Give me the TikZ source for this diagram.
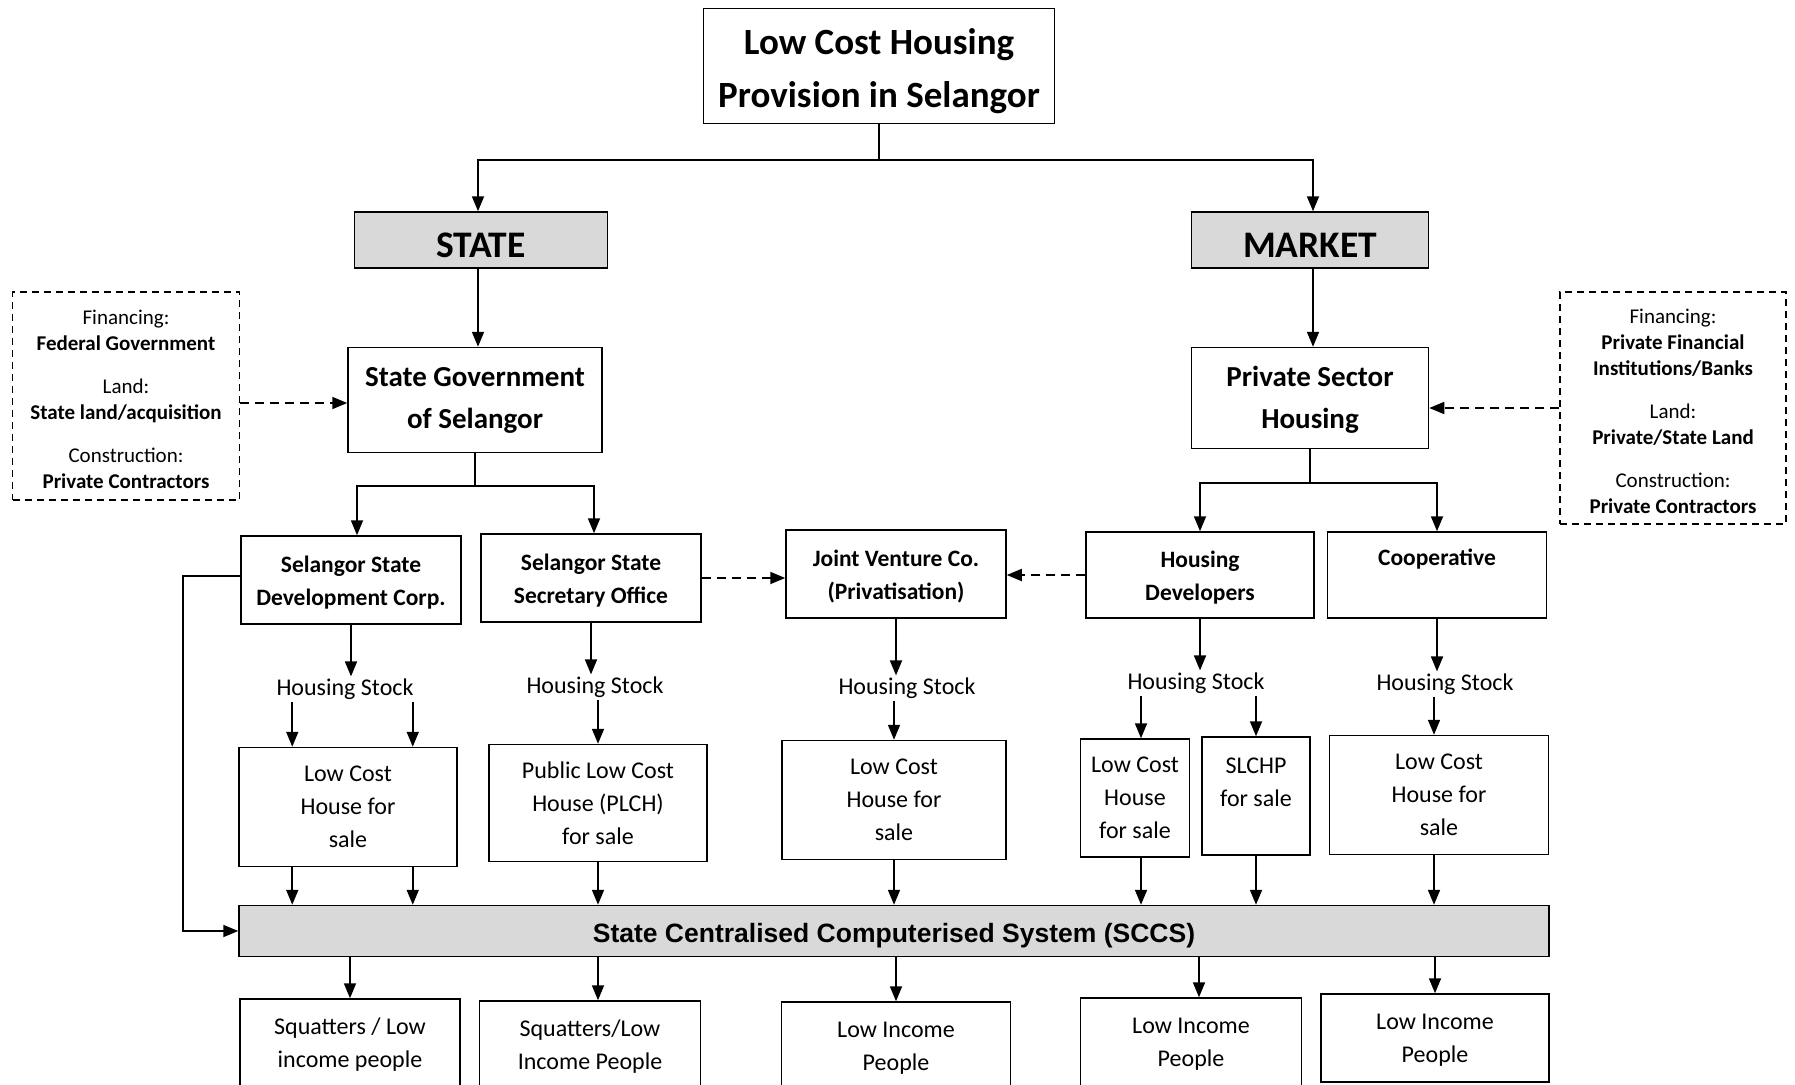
\documentclass[tikz,border=0pt]{standalone}
\usepackage{fontspec}
\setmainfont{Carlito}
\newfontfamily\arialfont{Liberation Sans}
\usetikzlibrary{arrows.meta}
\definecolor{boxgrey}{HTML}{D9D9D9}

\begin{document}
\begin{tikzpicture}[x=1pt,y=-1pt]
    \tikzstyle{box}=[draw,rectangle,line width=1.5pt,align=center,inner sep=0pt]
    \tikzstyle{greybox}=[box,fill=boxgrey]
    \tikzstyle{src}=[box,dash pattern=on 7pt off 5pt,font=\fontsize{21}{26}\selectfont]
    \tikzstyle{org}=[box,font=\fontsize{23.5}{33}\selectfont\bfseries]
    \tikzstyle{unit}=[box,font=\fontsize{24}{33}\selectfont]
    \tikzstyle{stock}=[inner sep=2pt,font=\fontsize{24}{33}\selectfont]
    \tikzstyle{arr}=[-{Triangle[length=15pt,width=12pt]},line width=1.8pt]
    \tikzstyle{darr}=[arr,dash pattern=on 9pt off 6pt]
    \tikzstyle{link}=[line width=1.8pt]
    \useasboundingbox (0,0) rectangle (1795,1084);

    \node at (879,66)   (title)  [box,minimum width=351pt,minimum height=115pt,font=\fontsize{37}{53}\selectfont\bfseries] {\rule{0pt}{37pt}Low Cost Housing\\Provision in Selangor};
    \node at (481,240)  (state)  [greybox,minimum width=253pt,minimum height=56pt,text height=35pt,font=\fontsize{37.5}{40}\selectfont\bfseries] {STATE};
    \node at (1310,240) (market) [greybox,minimum width=237pt,minimum height=56pt,text height=35pt,font=\fontsize{37.5}{40}\selectfont\bfseries] {MARKET};
    \node at (475,400)  (stategov) [box,minimum width=254pt,minimum height=105pt,font=\fontsize{29}{42}\selectfont\bfseries] {State Government\\of Selangor};
    \node at (1310,398) (psh)    [box,minimum width=237pt,minimum height=101pt,font=\fontsize{29}{42}\selectfont\bfseries] {\rule{0pt}{24pt}Private Sector\\Housing};
    \node at (126,396)  (fedsrc) [src,minimum width=227pt,minimum height=208pt] {\rule{0pt}{22pt}Financing:\\\textbf{Federal Government}\\[17pt]Land:\\\textbf{State land/acquisition}\\[17pt]Construction:\\\textbf{Private Contractors}};
    \node at (1673,408) (privsrc) [src,minimum width=226pt,minimum height=232pt] {\rule{0pt}{22pt}Financing:\\\textbf{Private Financial}\\\textbf{Institutions/Banks}\\[17pt]Land:\\\textbf{Private/State Land}\\[17pt]Construction:\\\textbf{Private Contractors}};

    \node at (351,580)  (ssdc) [org,minimum width=220pt,minimum height=88pt] {\rule{0pt}{21pt}Selangor State\\Development Corp.};
    \node at (591,578)  (ssso) [org,minimum width=220pt,minimum height=88pt] {\rule{0pt}{21pt}Selangor State\\Secretary Office};
    \node at (896,574)  (jv)   [org,minimum width=220pt,minimum height=88pt] {\rule{0pt}{21pt}Joint Venture Co.\\(Privatisation)};
    \node at (1200,575) (hd)   [org,minimum width=228pt,minimum height=86pt] {\rule{0pt}{21pt}Housing\\Developers};
    \node at (1437,575) (coop) [org,minimum width=219pt,minimum height=86pt] {\rule{0pt}{24pt}Cooperative\\\strut};

    \node at (345,689)  (hs1) [stock] {Housing Stock};
    \node at (595,687)  (hs2) [stock] {Housing Stock};
    \node at (907,688)  (hs3) [stock] {Housing Stock};
    \node at (1196,683) (hs4) [stock] {Housing Stock};
    \node at (1445,684) (hs5) [stock] {Housing Stock};

    \node at (348,807)  (lch1)  [unit,minimum width=218pt,minimum height=119pt] {Low Cost\\House for\\sale};
    \node at (598,803)  (plch)  [unit,minimum width=218pt,minimum height=117pt] {Public Low Cost\\House (PLCH)\\for sale};
    \node at (894,800)  (lch3)  [unit,minimum width=224pt,minimum height=119pt] {Low Cost\\House for\\sale};
    \node at (1135,798) (lch4)  [unit,minimum width=109pt,minimum height=118pt] {Low Cost\\House\\for sale};
    \node at (1256,796) (slchp) [unit,minimum width=108pt,minimum height=118pt] {SLCHP\\for sale\rule[-27pt]{0pt}{27pt}};
    \node at (1439,795) (lch5)  [unit,minimum width=219pt,minimum height=119pt] {Low Cost\\House for\\sale};

    \node at (894,931)  (sccs) [greybox,minimum width=1310pt,minimum height=51pt,text height=28pt,font=\arialfont\bfseries\fontsize{26.5}{30}\selectfont] {State Centralised Computerised System (SCCS)};

    \node at (350,1043)  (b1) [unit,minimum width=220pt,minimum height=88pt] {\rule{0pt}{20pt}Squatters / Low\\income people};
    \node at (590,1045)  (b2) [unit,minimum width=221pt,minimum height=88pt] {\rule{0pt}{20pt}Squatters/Low\\Income People};
    \node at (896,1046)  (b3) [unit,minimum width=229pt,minimum height=88pt] {\rule{0pt}{20pt}Low Income\\People};
    \node at (1191,1042) (b4) [unit,minimum width=221pt,minimum height=88pt] {\rule{0pt}{20pt}Low Income\\People};
    \node at (1435,1038) (b5) [unit,minimum width=228pt,minimum height=88pt] {\rule{0pt}{20pt}Low Income\\People};

    % top split
    \draw[link] (title.south) -- ++(0,36) coordinate (tsplit);
    \draw[arr] (tsplit) -| ([xshift=-3pt]state.north);
    \draw[arr] (tsplit) -| ([xshift=3pt]market.north);
    \draw[arr] ([xshift=-3pt]state.south) -- ([xshift=-3pt]state.south |- stategov.north);
    \draw[arr] ([xshift=3pt]market.south) -- ([xshift=3pt]market.south |- psh.north);
    \coordinate (gin) at ([yshift=-3pt]stategov.west);
    \draw[darr] (gin -| fedsrc.east) -- (gin);
    \draw[darr] (privsrc.west) -- (privsrc.west -| psh.east);

    % agencies
    \draw[link] (stategov.south) -- ++(0,33) coordinate (gsplit);
    \draw[arr] (gsplit) -| ([xshift=6pt]ssdc.north);
    \draw[arr] (gsplit) -| ([xshift=3pt]ssso.north);
    \draw[link] (psh.south) -- ++(0,34) coordinate (psplit);
    \draw[arr] (psplit) -| (hd.north);
    \draw[arr] (psplit) -| (coop.north);
    \draw[darr] (ssso.east) -- (ssso.east -| jv.west);
    \draw[darr] (hd.west) -- (hd.west -| jv.east);
    \draw[arr] ([yshift=4pt]ssdc.west) -- ++(-57,0) |- (sccs.west);

    % housing stock
    \draw[arr] (ssdc.south) -- (ssdc.south |- hs1.north);
    \draw[arr] (ssso.south) -- (ssso.south |- hs2.north);
    \draw[arr] (jv.south) -- (jv.south |- hs3.north);
    \draw[arr] (hd.south) -- (hd.south |- hs4.north);
    \draw[arr] (coop.south) -- (coop.south |- hs5.north);

    \coordinate (l1a) at ([xshift=54pt]lch1.north west);
    \coordinate (l1b) at ([xshift=-45pt]lch1.north east);
    \coordinate (l4) at ([xshift=6pt]lch4.north);
    \coordinate (l5) at ([xshift=-5pt]lch5.north);
    \draw[arr] (l1a |- hs1.south) -- (l1a);
    \draw[arr] (l1b |- hs1.south) -- (l1b);
    \draw[arr] (hs2.south -| plch.north) -- (plch.north);
    \draw[arr] (hs3.south -| lch3.north) -- (lch3.north);
    \draw[arr] (l4 |- hs4.south) -- (l4);
    \draw[arr] (hs4.south -| slchp.north) -- (slchp.north);
    \draw[arr] (l5 |- hs5.south) -- (l5);

    % into SCCS
    \draw[arr] (l1a |- lch1.south) -- (l1a |- sccs.north);
    \draw[arr] (l1b |- lch1.south) -- (l1b |- sccs.north);
    \draw[arr] (plch.south) -- (plch.south |- sccs.north);
    \draw[arr] (lch3.south) -- (lch3.south |- sccs.north);
    \draw[arr] (l4 |- lch4.south) -- (l4 |- sccs.north);
    \draw[arr] (slchp.south) -- (slchp.south |- sccs.north);
    \draw[arr] (l5 |- lch5.south) -- (l5 |- sccs.north);

    % out of SCCS
    \coordinate (o2) at ([xshift=8pt]b2.north);
    \coordinate (o4) at ([xshift=8pt]b4.north);
    \draw[arr] (b1.north |- sccs.south) -- (b1.north);
    \draw[arr] (o2 |- sccs.south) -- (o2);
    \draw[arr] (b3.north |- sccs.south) -- (b3.north);
    \draw[arr] (o4 |- sccs.south) -- (o4);
    \draw[arr] (b5.north |- sccs.south) -- (b5.north);
\end{tikzpicture}
\end{document}
